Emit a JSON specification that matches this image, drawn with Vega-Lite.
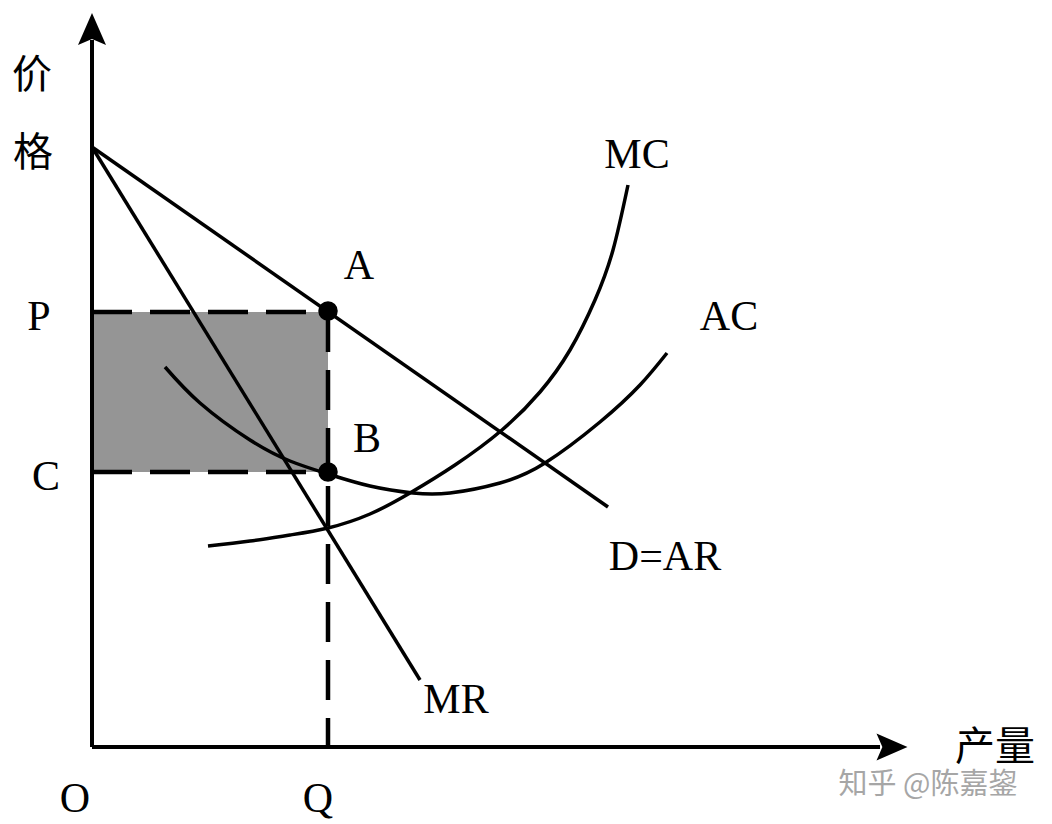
{
  "$schema": "https://vega.github.io/schema/vega-lite/v6.json",
  "width": 1052,
  "height": 824,
  "autosize": {"type": "none"},
  "padding": 0,
  "background": "white",
  "config": {"view": {"stroke": null}},
  "datasets": {
    "axes": [
      {"name": "price", "x": 0, "y": 0, "x2": 0, "y2": 707},
      {"name": "quantity", "x": 0, "y": 0, "x2": 788, "y2": 0}
    ],
    "arrowUp": [{"x": 0, "y": 718}],
    "arrowRight": [{"x": 800, "y": 0}],
    "profit": [{"x": 0, "x2": 236, "y": 275, "y2": 435}],
    "guides": [
      {"name": "P", "x": 0, "y": 435, "x2": 236, "y2": 435},
      {"name": "C", "x": 0, "y": 275, "x2": 236, "y2": 275},
      {"name": "Q", "x": 236, "y": 435, "x2": 236, "y2": 0}
    ],
    "curves": [
      {"curve": "D=AR", "x": 0, "y": 600},
      {"curve": "D=AR", "x": 516, "y": 240},
      {"curve": "MR", "x": 0, "y": 600},
      {"curve": "MR", "x": 328, "y": 67},
      {"curve": "AC", "x": 73, "y": 380},
      {"curve": "AC", "x": 108, "y": 344},
      {"curve": "AC", "x": 158, "y": 307},
      {"curve": "AC", "x": 198, "y": 286},
      {"curve": "AC", "x": 236, "y": 273},
      {"curve": "AC", "x": 278, "y": 261},
      {"curve": "AC", "x": 321, "y": 254},
      {"curve": "AC", "x": 358, "y": 254},
      {"curve": "AC", "x": 408, "y": 264},
      {"curve": "AC", "x": 453, "y": 284},
      {"curve": "AC", "x": 508, "y": 325},
      {"curve": "AC", "x": 548, "y": 362},
      {"curve": "AC", "x": 575, "y": 394},
      {"curve": "MC", "x": 116, "y": 201},
      {"curve": "MC", "x": 158, "y": 206},
      {"curve": "MC", "x": 198, "y": 212},
      {"curve": "MC", "x": 236, "y": 219},
      {"curve": "MC", "x": 278, "y": 233},
      {"curve": "MC", "x": 318, "y": 254},
      {"curve": "MC", "x": 363, "y": 282},
      {"curve": "MC", "x": 410, "y": 317},
      {"curve": "MC", "x": 448, "y": 355},
      {"curve": "MC", "x": 478, "y": 397},
      {"curve": "MC", "x": 503, "y": 447},
      {"curve": "MC", "x": 521, "y": 497},
      {"curve": "MC", "x": 536, "y": 562}
    ],
    "points": [
      {"name": "A", "x": 236, "y": 436},
      {"name": "B", "x": 236, "y": 275}
    ],
    "labels": [
      {"text": "P", "x": -53, "y": 417},
      {"text": "C", "x": -46, "y": 257},
      {"text": "O", "x": -17, "y": -65},
      {"text": "Q", "x": 226, "y": -65},
      {"text": "A", "x": 267, "y": 468},
      {"text": "B", "x": 275, "y": 295},
      {"text": "MC", "x": 545, "y": 579},
      {"text": "AC", "x": 637, "y": 417},
      {"text": "D=AR", "x": 573, "y": 177},
      {"text": "MR", "x": 364, "y": 34}
    ],
    "cjk": [
      {"text": "价", "x": -60, "y": 659},
      {"text": "格", "x": -59, "y": 581},
      {"text": "产量", "x": 903, "y": -13}
    ],
    "watermark": [{"text": "知乎 @陈嘉鋆", "x": 836, "y": -47}]
  },
  "layer": [
    {
      "data": {"name": "profit"},
      "mark": {"type": "rect", "color": "#959595"},
      "encoding": {
        "x": {"field": "x", "type": "quantitative", "scale": {"domain": [-92, 960], "nice": false, "zero": false}, "axis": null},
        "x2": {"field": "x2"},
        "y": {"field": "y", "type": "quantitative", "scale": {"domain": [-77, 747], "nice": false, "zero": false}, "axis": null},
        "y2": {"field": "y2"}
      }
    },
    {
      "data": {"name": "curves"},
      "mark": {"type": "line", "color": "black", "strokeWidth": 3.5, "interpolate": "natural"},
      "encoding": {
        "x": {"field": "x", "type": "quantitative", "scale": {"domain": [-92, 960], "nice": false, "zero": false}, "axis": null},
        "y": {"field": "y", "type": "quantitative", "scale": {"domain": [-77, 747], "nice": false, "zero": false}, "axis": null},
        "detail": {"field": "curve"},
        "order": {"field": "x", "type": "quantitative"}
      }
    },
    {
      "data": {"name": "guides"},
      "mark": {"type": "rule", "color": "black", "strokeWidth": 4.5, "strokeDash": [40, 18]},
      "encoding": {
        "x": {"field": "x", "type": "quantitative", "scale": {"domain": [-92, 960], "nice": false, "zero": false}, "axis": null},
        "x2": {"field": "x2"},
        "y": {"field": "y", "type": "quantitative", "scale": {"domain": [-77, 747], "nice": false, "zero": false}, "axis": null},
        "y2": {"field": "y2"}
      }
    },
    {
      "data": {"name": "axes"},
      "mark": {"type": "rule", "color": "black", "strokeWidth": 4},
      "encoding": {
        "x": {"field": "x", "type": "quantitative", "scale": {"domain": [-92, 960], "nice": false, "zero": false}, "axis": null},
        "x2": {"field": "x2"},
        "y": {"field": "y", "type": "quantitative", "scale": {"domain": [-77, 747], "nice": false, "zero": false}, "axis": null},
        "y2": {"field": "y2"}
      }
    },
    {
      "data": {"name": "arrowUp"},
      "mark": {"type": "point", "filled": true, "color": "black", "opacity": 1, "size": 1024, "shape": "M0,-1L0.875,1L0,0.62L-0.875,1Z"},
      "encoding": {
        "x": {"field": "x", "type": "quantitative", "scale": {"domain": [-92, 960], "nice": false, "zero": false}, "axis": null},
        "y": {"field": "y", "type": "quantitative", "scale": {"domain": [-77, 747], "nice": false, "zero": false}, "axis": null}
      }
    },
    {
      "data": {"name": "arrowRight"},
      "mark": {"type": "point", "filled": true, "color": "black", "opacity": 1, "size": 961, "shape": "M1,0L-1,0.875L-0.62,0L-1,-0.875Z"},
      "encoding": {
        "x": {"field": "x", "type": "quantitative", "scale": {"domain": [-92, 960], "nice": false, "zero": false}, "axis": null},
        "y": {"field": "y", "type": "quantitative", "scale": {"domain": [-77, 747], "nice": false, "zero": false}, "axis": null}
      }
    },
    {
      "data": {"name": "points"},
      "mark": {"type": "point", "filled": true, "color": "black", "opacity": 1, "size": 380, "shape": "circle"},
      "encoding": {
        "x": {"field": "x", "type": "quantitative", "scale": {"domain": [-92, 960], "nice": false, "zero": false}, "axis": null},
        "y": {"field": "y", "type": "quantitative", "scale": {"domain": [-77, 747], "nice": false, "zero": false}, "axis": null}
      }
    },
    {
      "data": {"name": "labels"},
      "mark": {"type": "text", "font": "Liberation Serif", "fontSize": 42, "color": "black", "align": "center", "baseline": "alphabetic"},
      "encoding": {
        "x": {"field": "x", "type": "quantitative", "scale": {"domain": [-92, 960], "nice": false, "zero": false}, "axis": null},
        "y": {"field": "y", "type": "quantitative", "scale": {"domain": [-77, 747], "nice": false, "zero": false}, "axis": null},
        "text": {"field": "text"}
      }
    },
    {
      "data": {"name": "cjk"},
      "mark": {"type": "text", "font": "Noto Sans CJK SC", "fontSize": 40, "color": "black", "align": "center", "baseline": "alphabetic"},
      "encoding": {
        "x": {"field": "x", "type": "quantitative", "scale": {"domain": [-92, 960], "nice": false, "zero": false}, "axis": null},
        "y": {"field": "y", "type": "quantitative", "scale": {"domain": [-77, 747], "nice": false, "zero": false}, "axis": null},
        "text": {"field": "text"}
      }
    },
    {
      "data": {"name": "watermark"},
      "mark": {"type": "text", "font": "Noto Sans CJK SC", "fontSize": 29, "color": "#a6a6a6", "align": "center", "baseline": "alphabetic"},
      "encoding": {
        "x": {"field": "x", "type": "quantitative", "scale": {"domain": [-92, 960], "nice": false, "zero": false}, "axis": null},
        "y": {"field": "y", "type": "quantitative", "scale": {"domain": [-77, 747], "nice": false, "zero": false}, "axis": null},
        "text": {"field": "text"}
      }
    }
  ]
}
